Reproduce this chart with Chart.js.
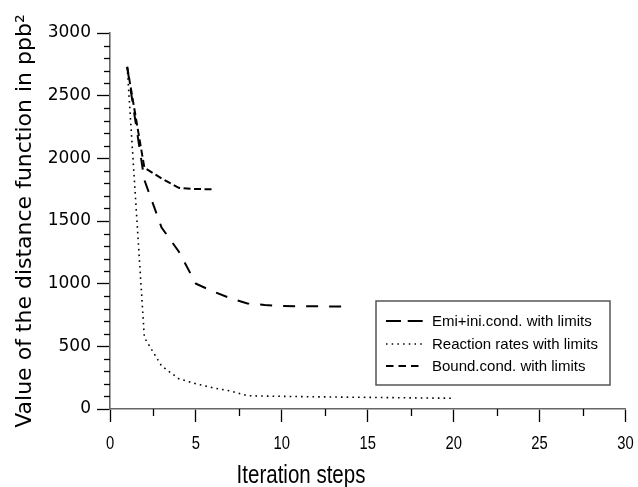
<!DOCTYPE html>
<html>
<head>
<meta charset="utf-8">
<script src="https://cdn.jsdelivr.net/npm/chart.js@4.4.1/dist/chart.umd.min.js"></script>
<style>
  html, body { margin: 0; padding: 0; background: #fff; }
  #wrap { width: 638px; height: 487px; position: relative; }
</style>
</head>
<body>
<div id="wrap"><canvas id="graf"></canvas></div>
<script>
// dados
var emiSteps = [1, 2, 3, 4, 5, 6, 7, 8, 9, 10, 11, 12, 13, 14]
var emiValues = [2730, 1828, 1448, 1257, 1000, 938, 884, 842, 830, 822, 820, 819, 818, 818]

var reacSteps = [1, 2, 3, 4, 5, 6, 7, 8, 9, 10, 11, 12, 13, 14, 15, 16, 17, 18, 19, 20]
var reacValues = [2730, 570, 344, 242, 201, 169, 144, 106, 103, 101, 99, 97, 96, 94, 93, 91, 90, 88, 87, 86]

var boundSteps = [1, 2, 3, 4, 5, 6]
var boundValues = [2730, 1925, 1840, 1765, 1755, 1753]

var seriesNames = ['Emi+ini.cond. with limits', 'Reaction rates with limits', 'Bound.cond. with limits']

var xTicks = [0, 5, 10, 15, 20, 25, 30]
var yTicks = [0, 500, 1000, 1500, 2000, 2500, 3000]
var xTitle = 'Iteration steps'
var yTitle = 'Value of the distance function in ppb²'

function pares(xs, ys){
    return xs.map(function(x, i){ return {x: x, y: ys[i]} })
}

// texto estreito (fonte condensada nao existe aqui, entao comprime na horizontal)
function textoEstreito(ctx, txt, x, y, size){
    ctx.save()
    ctx.translate(x, y)
    ctx.scale(0.82, 1)
    ctx.font = size + 'px "Liberation Sans", Arial, sans-serif'
    ctx.fillStyle = '#000'
    ctx.textAlign = 'center'
    ctx.textBaseline = 'alphabetic'
    ctx.fillText(txt, 0, 0)
    ctx.restore()
}

// tracinhos menores, rotulos do eixo x e a legenda com moldura
var extras = {
    id: 'extras',
    afterDraw: function(chart){
        var ctx = chart.ctx
        var xs = chart.scales.x
        var ys = chart.scales.y
        var area = chart.chartArea
        ctx.save()
        ctx.strokeStyle = '#000'
        ctx.lineWidth = 1.3
        for (var v = 100; v < 3000; v += 100){
            if (v % 500 === 0) continue
            var py = Math.round(ys.getPixelForValue(v)) + 0.5
            ctx.beginPath()
            ctx.moveTo(area.left - 6, py)
            ctx.lineTo(area.left, py)
            ctx.stroke()
        }
        for (var t = 2.5; t < 30; t += 5){
            var px = Math.round(xs.getPixelForValue(t)) + 0.5
            ctx.beginPath()
            ctx.moveTo(px, area.bottom)
            ctx.lineTo(px, area.bottom + 7)
            ctx.stroke()
        }

        xTicks.forEach(function(val){
            textoEstreito(ctx, String(val), xs.getPixelForValue(val), area.bottom + 40, 18)
        })
        textoEstreito(ctx, xTitle, 301, 483, 25)

        // legenda
        var bx = 376, by = 301, bw = 234, bh = 84
        ctx.strokeStyle = '#555'
        ctx.lineWidth = 1.5
        ctx.strokeRect(bx, by, bw, bh)

        var linhas = [
            {dash: [15, 6.7], width: 2},
            {dash: [1.5, 4.2], width: 1.5},
            {dash: [7.5, 5], width: 2}
        ]
        var rowsY = [321, 344, 366]
        ctx.font = '15px "Liberation Sans", Arial, sans-serif'
        ctx.fillStyle = '#000'
        ctx.textBaseline = 'middle'
        ctx.textAlign = 'left'
        linhas.forEach(function(l, i){
            ctx.strokeStyle = '#000'
            ctx.lineWidth = l.width
            ctx.setLineDash(l.dash)
            ctx.beginPath()
            ctx.moveTo(386, rowsY[i])
            ctx.lineTo(423, rowsY[i])
            ctx.stroke()
            ctx.setLineDash([])
            ctx.fillText(seriesNames[i], 432, rowsY[i] + 1)
        })
        ctx.restore()
    }
}

function gerarGrafico(){
    try{
        new Chart(
            document.getElementById('graf'),
            {
                type: 'line',
                data: {
                    datasets: [
                        {
                            label: seriesNames[0],
                            data: pares(emiSteps, emiValues),
                            borderColor: '#000',
                            borderWidth: 2,
                            borderDash: [12, 11],
                            pointRadius: 0,
                            tension: 0
                        },
                        {
                            label: seriesNames[1],
                            data: pares(reacSteps, reacValues),
                            borderColor: '#000',
                            borderWidth: 1.6,
                            borderDash: [1.6, 4.1],
                            pointRadius: 0,
                            tension: 0
                        },
                        {
                            label: seriesNames[2],
                            data: pares(boundSteps, boundValues),
                            borderColor: '#000',
                            borderWidth: 2,
                            borderDash: [7, 3.5],
                            pointRadius: 0,
                            tension: 0
                        }
                    ]
                },
                options: {
                    responsive: false,
                    animation: false,
                    layout: { padding: { left: 0, top: 33, right: 12.5, bottom: 0 } },
                    plugins: {
                        legend: { display: false },
                        tooltip: { enabled: false }
                    },
                    scales: {
                        x: {
                            type: 'linear',
                            min: 0,
                            max: 30,
                            afterBuildTicks: function(s){ s.ticks = xTicks.map(function(v){ return {value: v} }) },
                            afterFit: function(s){
                                s.height = 78
                                s.paddingLeft = 0
                                s.paddingRight = 0
                            },
                            grid: { drawOnChartArea: false, tickLength: 13, tickColor: '#000', tickWidth: 1.3 },
                            border: { color: '#666', width: 1.6 },
                            ticks: {
                                color: 'rgba(0,0,0,0)',
                                maxRotation: 0,
                                autoSkip: false,
                                font: { size: 10 }
                            },
                            title: { display: false }
                        },
                        y: {
                            min: 0,
                            max: 3000,
                            afterBuildTicks: function(s){ s.ticks = yTicks.map(function(v){ return {value: v} }) },
                            afterFit: function(s){ s.width = 110 },
                            grid: { drawOnChartArea: false, tickLength: 13, tickColor: '#000', tickWidth: 1.3 },
                            border: { color: '#666', width: 1.6 },
                            ticks: {
                                color: '#000',
                                padding: 6,
                                callback: function(v){ return String(v) },
                                font: { family: '"DejaVu Sans", sans-serif', size: 17 }
                            },
                            title: {
                                display: true,
                                text: yTitle,
                                color: '#000',
                                padding: { top: 12, bottom: 0 },
                                font: { family: '"DejaVu Sans", sans-serif', size: 22 }
                            }
                        }
                    }
                },
                plugins: [extras]
            }
        )
    }catch(e){ console.error(e) }
}

var cv = document.getElementById('graf')
cv.width = 638
cv.height = 487
gerarGrafico()
</script>
</body>
</html>
